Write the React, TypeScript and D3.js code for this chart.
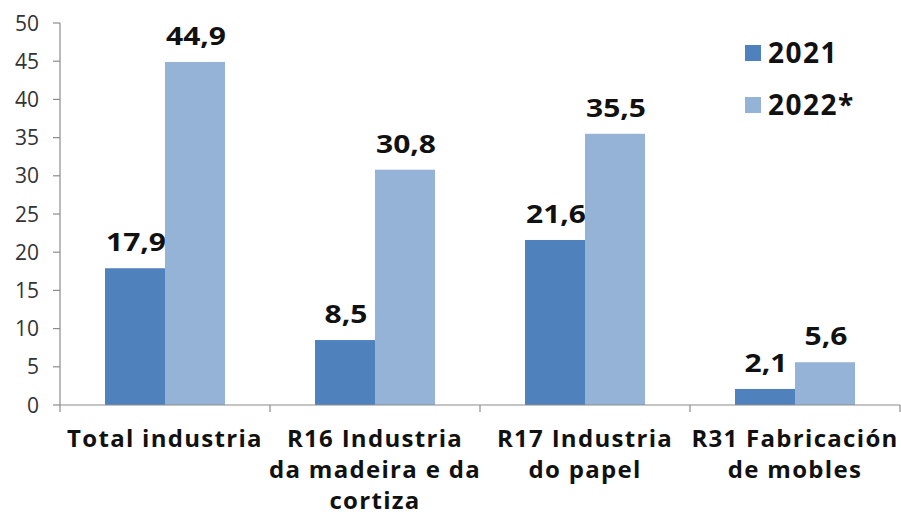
import React from "react";
import * as d3 from "d3";

const categories = ["Total industria", "R16 Industria da madeira e da cortiza", "R17 Industria do papel", "R31 Fabricación de mobles"];
const categoryLines = [["Total industria"], ["R16 Industria", "da madeira e da", "cortiza"], ["R17 Industria", "do papel"], ["R31 Fabricación", "de mobles"]];
const series = ["2021", "2022*"];
const values2021 = [17.9, 8.5, 21.6, 2.1];
const values2022 = [44.9, 30.8, 35.5, 5.6];
const yTicks = [0, 5, 10, 15, 20, 25, 30, 35, 40, 45, 50];
const colors = ["#4F81BD", "#95B3D7"];

const W = 901, H = 516;
const left = 60, right = 900, top = 23, bottom = 405;
const font = "'Open Sans', Lato, sans-serif";

export default function App() {
  const x = d3.scaleBand().domain(categories).range([left, right]).paddingInner(0).paddingOuter(0);
  const y = d3.scaleLinear().domain([0, 50]).range([bottom, top]);
  const groupW = 120;
  const x1 = d3.scaleBand().domain(series).range([0, groupW]);
  const fmt = (v: number) => v.toFixed(1).replace(".", ",");
  const allVals = [values2021, values2022];
  return (
    <svg width={W} height={H} style={{ position: "absolute", left: 0, top: 0, background: "#fff" }} fontFamily={font}>
      {/* y axis */}
      <line x1={left} x2={left} y1={top} y2={bottom} stroke="#8c8c8c" strokeWidth={1.2} />
      {yTicks.map((t) => (
        <g key={t}>
          <line x1={left - 7} x2={left} y1={y(t)} y2={y(t)} stroke="#8c8c8c" strokeWidth={1.2} />
          <text x={39} y={y(t)} dy="0.36em" textAnchor="end" fontSize={21} fill="#333">{t}</text>
        </g>
      ))}
      {/* bars */}
      {categories.map((c, i) => {
        const gx = (x(c) as number) + (x.bandwidth() - groupW) / 2;
        return series.map((s, j) => {
          const v = allVals[j][i];
          const bx = gx + (x1(s) as number);
          return (
            <g key={c + s}>
              <rect x={bx} y={y(v)} width={x1.bandwidth()} height={bottom - y(v)} fill={colors[j]} />
              <text transform={`translate(${bx + x1.bandwidth() / 2 + 1}, ${y(v) - 17}) scale(1.2, 1)`} textAnchor="middle" fontSize={25} fontWeight="bold" fill="#111">{fmt(v)}</text>
            </g>
          );
        });
      })}
      {/* x axis */}
      <line x1={left} x2={right} y1={bottom} y2={bottom} stroke="#8c8c8c" strokeWidth={1.2} />
      {[...categories.map((c) => x(c) as number), right].map((px, i) => (
        <line key={i} x1={px} x2={px} y1={bottom} y2={bottom + 7} stroke="#8c8c8c" strokeWidth={1.2} />
      ))}
      {categories.map((c, i) => (
        <text key={c} x={(x(c) as number) + x.bandwidth() / 2} y={447} textAnchor="middle" fontSize={24} fontWeight="bold" letterSpacing={1.3} fill="#111">
          {categoryLines[i].map((l, k) => (
            <tspan key={k} x={(x(c) as number) + x.bandwidth() / 2} dy={k === 0 ? 0 : 31}>{l}</tspan>
          ))}
        </text>
      ))}
      {/* legend */}
      {series.map((s, j) => (
        <g key={s} transform={`translate(745, ${45 + j * 52})`}>
          <rect x={0} y={0} width={16} height={16} fill={colors[j]} />
          <text x={23} y={8} dy="0.36em" fontSize={28} fontWeight="bold" letterSpacing={1.5} fill="#111">{s}</text>
        </g>
      ))}
    </svg>
  );
}
